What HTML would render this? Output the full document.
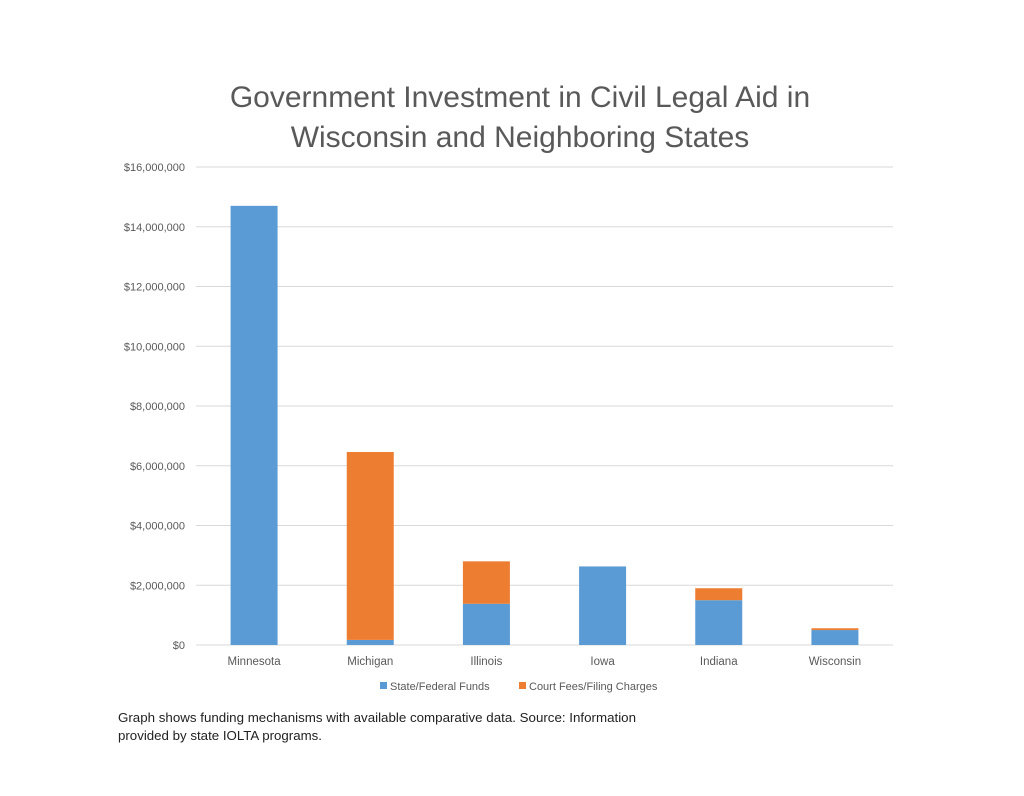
<!DOCTYPE html>
<html><head><meta charset="utf-8"><style>
body{margin:0;background:#fff;width:1024px;height:791px;overflow:hidden;font-family:"Liberation Sans",sans-serif}
</style></head><body>
<svg width="1024" height="791">
<text x="520" y="107" text-anchor="middle" font-size="30" fill="#595959">Government Investment in Civil Legal Aid in</text>
<text x="520" y="147" text-anchor="middle" font-size="30" fill="#595959">Wisconsin and Neighboring States</text>
<g id="grid"></g><g id="bars"></g><g id="labels"></g>
<g>
<rect x="380" y="682" width="7" height="7" fill="#5b9bd5"/>
<text x="390" y="690" font-size="11" fill="#595959">State/Federal Funds</text>
<rect x="519" y="682" width="7" height="7" fill="#ed7d31"/>
<text x="529" y="690" font-size="11" fill="#595959">Court Fees/Filing Charges</text>
</g>
<text x="118" y="722" font-size="12.5" fill="#222" textLength="518" lengthAdjust="spacingAndGlyphs">Graph shows funding mechanisms with available comparative data. Source: Information</text>
<text x="118" y="740" font-size="12.5" fill="#222" textLength="204" lengthAdjust="spacingAndGlyphs">provided by state IOLTA programs.</text>
</svg>
<script>
const categories=["Minnesota","Michigan","Illinois","Iowa","Indiana","Wisconsin"];
const stateFederal=[14700000,170000,1380000,2630000,1500000,500000];
const courtFees=[0,6290000,1420000,0,400000,60000];
const ticks=[0,2000000,4000000,6000000,8000000,10000000,12000000,14000000,16000000];
const tickLabels=["$0","$2,000,000","$4,000,000","$6,000,000","$8,000,000","$10,000,000","$12,000,000","$14,000,000","$16,000,000"];
const NS="http://www.w3.org/2000/svg";
const x0=196,x1=893,y0=645,y1=167,maxV=16000000;
const y=v=>y0-(v/maxV)*(y0-y1);
const band=(x1-x0)/categories.length;
const xc=i=>x0+band*(i+0.5);
function mk(tag,attrs,parent){const e=document.createElementNS(NS,tag);for(const k in attrs)e.setAttribute(k,attrs[k]);document.getElementById(parent).appendChild(e);return e;}
ticks.forEach((t,i)=>{
 const l=mk('line',{x1:x0,x2:x1,y1:y(t),y2:y(t),stroke:'#d9d9d9','stroke-width':1},'grid');
 
 
 const tx=mk('text',{x:185,y:y(t)+4,'text-anchor':'end','font-size':11,fill:'#595959'},'labels');
 tx.textContent=tickLabels[i];
 
 
});
const bw=47;
categories.forEach((c,i)=>{
 const b=mk('rect',{x:xc(i)-bw/2,y:y(stateFederal[i]),width:bw,height:y0-y(stateFederal[i]),fill:'#5b9bd5'},'bars');
 
 
 if(courtFees[i]>0){
  const top=stateFederal[i]+courtFees[i];
  const o=mk('rect',{x:xc(i)-bw/2,y:y(top),width:bw,height:y(stateFederal[i])-y(top),fill:'#ed7d31'},'bars');
  
  
 }
 const t=mk('text',{x:xc(i),y:665,'text-anchor':'middle','font-size':11.5,fill:'#595959'},'labels');
 t.textContent=c;
 
 
});
</script>
</body></html>
